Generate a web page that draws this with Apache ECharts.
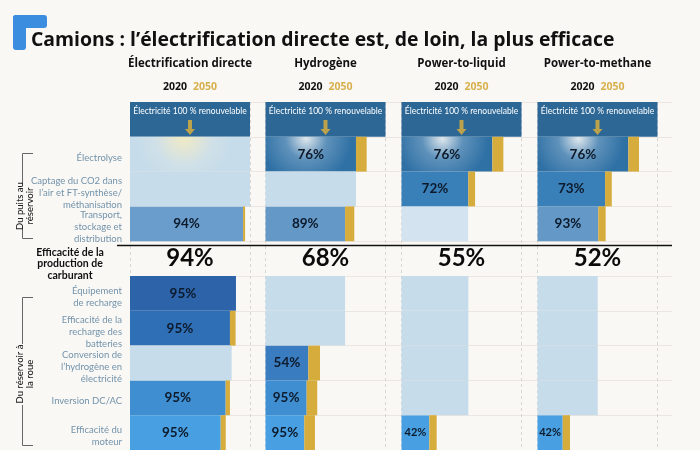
<!DOCTYPE html>
<html>
<head>
<meta charset="utf-8">
<script src="https://cdn.jsdelivr.net/npm/echarts@6/dist/echarts.min.js"></script>
<style>
  html, body { margin: 0; padding: 0; background: #faf8f5; }
  #c { width: 700px; height: 450px; }
</style>
</head>
<body>
<div id="c"></div>
<script>
// ---------------- DATA ----------------
const titleText = 'Camions : l\u2019électrification directe est, de loin, la plus efficace';
const pathways = ['Électrification directe', 'Hydrogène', 'Power-to-liquid', 'Power-to-methane'];
const years = ['2020', '2050'];
const sourceLabel = 'Électricité 100 % renouvelable';
const rowLabels = [
  '',
  'Électrolyse',
  'Captage du CO2 dans\nl\u2019air et FT-synthèse/\nméthanisation',
  'Transport,\nstockage et\ndistribution',
  'Efficacité de la\nproduction de\ncarburant',
  'Équipement\nde recharge',
  'Efficacité de la\nrecharge des\nbatteries',
  'Conversion de\nl\u2019hydrogène en\nélectricité',
  'Inversion DC/AC',
  'Efficacité du\nmoteur'
];
const groupLabels = ['Du puits au\nréservoir', 'Du réservoir à\nla roue'];
const inputShare = 100;
const fuelEfficiency = ['94%', '68%', '55%', '52%'];

// step efficiencies printed on the bars (2020, %)
const stepDirect = [null, null, null, 94, null, 95, 95, null, 95, 95];
const stepH2     = [null, 76, null, 89, null, null, null, 54, 95, 95];
const stepPtL    = [null, 76, 72, null, null, null, null, null, null, 42];
const stepPtM    = [null, 76, 73, 93, null, null, null, null, null, 42];

// remaining energy after the step, 2020 (% of input)
const remainDirect = [null, null, null, 94.2, null, 88.3, 83.3, null, 79.7, 75.6];
const remainH2     = [null, 75.4, null, 66.3, null, null, null, 35.7, 34.3, 32.3];
const remainPtL    = [null, 75.7, 55.7, null, null, null, null, null, null, 23.2];
const remainPtM    = [null, 75.7, 56.3, 50.7, null, null, null, null, null, 21.0];

// steps not used by the pathway (energy carried through unchanged)
const passDirect = [null, 100, 100, null, null, null, null, 84.7, null, null];
const passH2     = [null, null, 75.4, null, null, 66.3, 66.3, null, null, null];
const passPtL    = [null, null, null, 55.5, null, 55.7, 55.7, 55.7, 55.7, null];
const passPtM    = [null, null, null, null, null, 50.2, 50.2, 50.2, 50.2, null];

// extra gain expected by 2050 (% of input)
const gainDirect = [null, null, null, 1.7, null, null, 4.7, null, 3.6, 4.2];
const gainH2     = [null, 8.9, null, 7.7, null, null, null, 9.7, 8.8, 8.9];
const gainPtL    = [null, 9.2, 5.6, null, null, null, null, null, null, 6.1];
const gainPtM    = [null, 8.9, 5.6, 6.1, null, null, null, null, null, 6.1];

const steps   = [stepDirect, stepH2, stepPtL, stepPtM];
const remains = [remainDirect, remainH2, remainPtL, remainPtM];
const passes  = [passDirect, passH2, passPtL, passPtM];
const gains   = [gainDirect, gainH2, gainPtL, gainPtM];

// ---------------- STYLE / LAYOUT ----------------
const FONT = 'Lato';
const HFONT = 'Open Sans';
const colLeft = [130, 265.5, 401.5, 537.5];
const colWidth = 120;
const gridTop = 102, gridBottom = -10;
const rowColors = [null, null, '#3a80b8', '#6398c7', null, '#2c63a9', '#2f6fb6', '#3a7cc0', '#3e8ed1', '#48a0e2'];
const lightColor = '#c7dcea';
const gold = '#d6ac3c';
const headerColor = '#2c6795';
const SUMMARY_ROW = 4;

function blueColor(c, r) {
  if (r === 1) {
    return new echarts.graphic.RadialGradient(0.45, 0.05, 1.3, [
      { offset: 0, color: '#dfe7ec' },
      { offset: 0.45, color: '#5f92bb' },
      { offset: 1, color: '#3071a5' }
    ]);
  }
  if (r === 3 && c === 0) return '#6a9dcb';
  return rowColors[r];
}
function lightFor(c, r) {
  if (c === 0 && r === 1) {
    return new echarts.graphic.RadialGradient(0.45, 0.0, 1.4, [
      { offset: 0, color: '#f1eac4' },
      { offset: 0.6, color: '#cfe0e8' },
      { offset: 1, color: '#c6dcea' }
    ]);
  }
  if (c === 2 && r === 3) return '#d3e4f0';
  return lightColor;
}

const grids = [{ left: colLeft[0], right: 28, top: gridTop, bottom: gridBottom }];
const xAxes = [{ gridIndex: 0, type: 'value', min: 0, max: 100, show: false }];
const yAxes = [{
  gridIndex: 0, type: 'category', inverse: true, data: rowLabels,
  axisLine: { show: false }, axisTick: { show: false },
  splitLine: { show: true, lineStyle: { color: '#ebe6e1', width: 1 } },
  axisLabel: {
    interval: 0, margin: 8, padding: [7, 0, 0, 0],
    formatter: (v, i) => i === SUMMARY_ROW ? '' : v.split('\n').map(l => '{n|' + l + '}').join('\n'),
    rich: {
      n: { color: '#7293ab', fontSize: 9.5, lineHeight: 12, fontFamily: FONT, align: 'right' }
    }
  }
}];
const series = [];

for (let c = 0; c < 4; c++) {
  const gi = c + 1;
  grids.push({ left: colLeft[c], width: colWidth, top: gridTop, bottom: gridBottom });
  xAxes.push({
    gridIndex: gi, type: 'value', min: 0, max: 100, interval: 100, position: 'top',
    axisLine: { show: false }, axisTick: { show: false }, axisLabel: { show: false },
    splitLine: { show: true, lineStyle: { color: '#d9d5d1', type: [3, 3], width: 1 } },
    name: '{h|' + pathways[c] + '}\n{a|' + years[0] + '}  {y|' + years[1] + '}',
    nameLocation: 'middle', nameGap: 3,
    nameTextStyle: {
      rich: {
        h: { fontSize: 11.5, fontWeight: 'bold', color: '#111', fontFamily: HFONT, lineHeight: 24 },
        a: { fontSize: 10.5, fontWeight: 'bold', color: '#111', fontFamily: HFONT, lineHeight: 23 },
        y: { fontSize: 10.5, fontWeight: 'bold', color: '#d6b04c', fontFamily: HFONT, lineHeight: 23 }
      }
    }
  });
  yAxes.push({ gridIndex: gi, type: 'category', inverse: true, data: rowLabels, show: false });

  const stack = 'col' + c;
  const base = { type: 'bar', xAxisIndex: gi, yAxisIndex: gi, stack, barCategoryGap: '0%', silent: true };

  series.push(Object.assign({}, base, {
    data: rowLabels.map((_, r) => r === 0 ? inputShare : null),
    itemStyle: { color: headerColor },
    label: { show: true, position: 'insideTop', distance: 5, formatter: sourceLabel,
             color: '#fff', fontSize: 8.5, fontFamily: FONT }
  }));
  series.push(Object.assign({}, base, {
    data: remains[c].map((v, r) => v == null ? null : {
      value: v,
      itemStyle: { color: blueColor(c, r) },
      label: { formatter: steps[c][r] + '%', fontSize: v < 30 ? 11 : 13.5 }
    }),
    label: { show: true, position: 'inside', color: '#0d1a2b', fontWeight: 'bold', fontFamily: FONT }
  }));
  series.push(Object.assign({}, base, {
    data: passes[c].map((v, r) => v == null ? null : { value: v, itemStyle: { color: lightFor(c, r) } })
  }));
  series.push(Object.assign({}, base, {
    data: gains[c],
    itemStyle: { color: gold }
  }));
  series.push(Object.assign({}, base, {
    data: rowLabels.map((_, r) => r === SUMMARY_ROW ? inputShare : null),
    itemStyle: { color: 'rgba(0,0,0,0)' },
    label: { show: true, position: 'inside', formatter: fuelEfficiency[c],
             fontSize: 24, fontWeight: 'bold', color: '#0b0b0b', fontFamily: FONT }
  }));
  series.push({
    type: 'scatter', xAxisIndex: gi, yAxisIndex: gi, silent: true, z: 5,
    data: [[inputShare / 2, 0]],
    symbol: 'path://M3,0 L7,0 L7,9 L10,9 L5,15 L0,9 L3,9 Z',
    symbolSize: [10, 15], symbolOffset: [0, 8],
    itemStyle: { color: '#e2b23a' }
  });
}

const rowH = (450 - gridBottom - gridTop) / rowLabels.length;
const sepY = Math.round(gridTop + SUMMARY_ROW * rowH) + 0.5;
const summaryY = gridTop + (SUMMARY_ROW + 0.5) * rowH;

const graphic = [
  { type: 'rect', shape: { x: 13, y: 15, width: 34, height: 13, r: 3 }, style: { fill: '#3b8de0' } },
  { type: 'rect', shape: { x: 13, y: 15, width: 13, height: 35, r: 3 }, style: { fill: '#3b8de0' } },
  { type: 'text', x: 31, y: 40, style: { text: titleText, font: 'bold 19.4px ' + HFONT, fill: '#111',
      textVerticalAlign: 'middle' } },
  { type: 'line', shape: { x1: 117, y1: sepY, x2: 672, y2: sepY }, style: { stroke: '#111', lineWidth: 1.5 }, z: 10 },
  { type: 'text', x: 70, y: summaryY + 1, style: { text: rowLabels[SUMMARY_ROW], font: 'bold 10.5px ' + FONT,
      fill: '#111', textAlign: 'center', textVerticalAlign: 'middle', lineHeight: 11.5 } },
  // bracket 1
  { type: 'polyline', shape: { points: [[33, 153.5], [22.5, 153.5], [22.5, 186]] }, style: { stroke: '#666', lineWidth: 1, fill: null } },
  { type: 'polyline', shape: { points: [[22.5, 226], [22.5, 238.5], [33, 238.5]] }, style: { stroke: '#666', lineWidth: 1, fill: null } },
  { type: 'text', x: 25, y: 206, rotation: Math.PI / 2,
    style: { text: groupLabels[0], font: '500 9.5px ' + FONT, fill: '#222', textAlign: 'center', textVerticalAlign: 'middle', lineHeight: 10 } },
  // bracket 2
  { type: 'polyline', shape: { points: [[33, 297.5], [22.5, 297.5], [22.5, 344]] }, style: { stroke: '#666', lineWidth: 1, fill: null } },
  { type: 'polyline', shape: { points: [[22.5, 405], [22.5, 445.5], [33, 445.5]] }, style: { stroke: '#666', lineWidth: 1, fill: null } },
  { type: 'text', x: 25, y: 374, rotation: Math.PI / 2,
    style: { text: groupLabels[1], font: '500 9.5px ' + FONT, fill: '#222', textAlign: 'center', textVerticalAlign: 'middle', lineHeight: 10 } }
];

const chart = echarts.init(document.getElementById('c'), null, { renderer: 'canvas' });
chart.setOption({
  backgroundColor: '#faf8f5',
  animation: false,
  textStyle: { fontFamily: FONT },
  grid: grids,
  xAxis: xAxes,
  yAxis: yAxes,
  series: series,
  graphic: graphic
});
</script>
</body>
</html>
